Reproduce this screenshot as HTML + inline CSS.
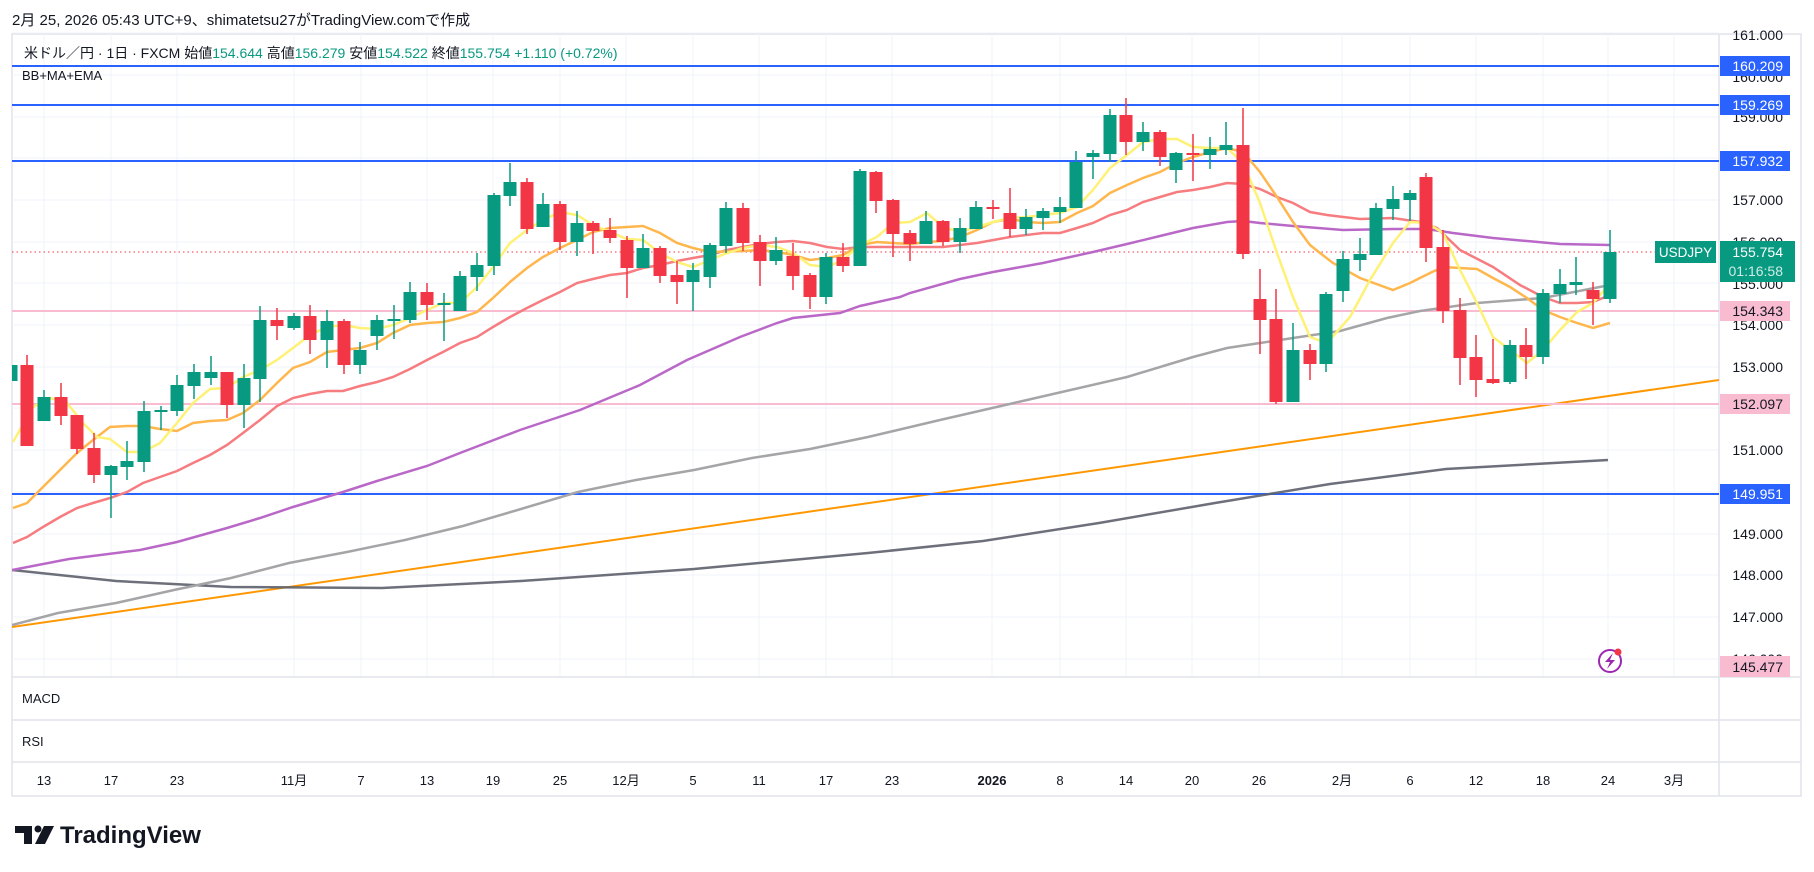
<!DOCTYPE html>
<html><head><meta charset="utf-8"><style>
html,body{margin:0;padding:0;background:#fff;}
svg{display:block;font-family:"Liberation Sans","Noto Sans CJK JP",sans-serif;}
</style></head><body>
<svg width="1814" height="872" viewBox="0 0 1814 872" xmlns="http://www.w3.org/2000/svg">
<rect width="1814" height="872" fill="#fff"/>
<text x="12" y="25" font-size="15" fill="#131722">2月 25, 2026 05:43 UTC+9、shimatetsu27がTradingView.comで作成</text>
<rect x="12" y="34" width="1789" height="762" fill="#fff" stroke="#e0e3eb" stroke-width="1.5"/>
<g stroke="#f0f3fa" stroke-width="1">
<path d="M12 33H1719M12 75H1719M12 117H1719M12 158H1719M12 200H1719M12 242H1719M12 283H1719M12 325H1719M12 367H1719M12 408H1719M12 450H1719M12 492H1719M12 534H1719M12 575H1719M12 617H1719M12 659H1719"/>
<path d="M44 34V677M111 34V677M177 34V677M294 34V677M361 34V677M427 34V677M493 34V677M560 34V677M626 34V677M693 34V677M759 34V677M826 34V677M892 34V677M992 34V677M1060 34V677M1126 34V677M1192 34V677M1259 34V677M1342 34V677M1410 34V677M1476 34V677M1543 34V677M1608 34V677M1674 34V677"/>
</g>
<g stroke="#e0e3eb" stroke-width="1.5">
<path d="M12 677H1801M12 720H1801M12 762H1801M1719 34V796"/>
</g>
<defs><clipPath id="pc"><rect x="12" y="35" width="1707" height="642"/></clipPath></defs>
<g clip-path="url(#pc)">
<path d="M12 627L1719 380" stroke="#ff9800" stroke-width="2" fill="none"/>
<g stroke="#2962ff" stroke-width="2"><path d="M12 66H1719M12 105H1719M12 161H1719M12 494H1719"/></g>
<g stroke="#f8bbd0" stroke-width="2"><path d="M12 311H1719M12 404H1719"/></g>
<path d="M12 252H1657" stroke="#f23645" stroke-width="1" stroke-dasharray="1.5 3"/>
<polyline fill="none" stroke="#5d606b" stroke-width="2.5" stroke-opacity="0.9" points="12,570 116,581 231,587 382,588 521,581 694,569 868,553 983,541 1099,523 1215,503 1330,484 1446,469 1608,460"/>
<polyline fill="none" stroke="#a5a5a8" stroke-width="2.5" points="12,625 58,613 116,603 174,590 231,578 289,563 347,552 405,540 463,526 521,509 578,492 636,480 694,470 752,458 810,449 868,437 940,420 1027,400 1127,377 1193,357 1227,348 1260,343 1293,338 1340,331 1387,318 1420,311 1477,303 1543,298 1610,285"/>
<polyline fill="none" stroke="#ba68c8" stroke-width="2.5" points="12,570 69,559 140,550 177,542 227,528 260,518 293,507 343,492 377,481 427,466 460,453 520,430 580,410 640,385 687,360 740,337 777,323 793,318 840,313 860,306 900,297 910,293 960,279 993,272 1043,263 1093,252 1127,244 1160,236 1193,228 1227,222 1243,221 1260,223 1293,226 1343,230 1393,229 1427,229 1453,233 1493,238 1527,241 1560,244 1610,245"/>
<polyline fill="none" stroke="#f77c80" stroke-width="2.5" points="13,543 27,537 43,527 60,517 77,508 93,503 110,498 127,492 143,483 160,477 177,471 193,463 210,455 227,445 243,433 260,420 277,406 293,398 310,394 327,391 343,391 360,386 377,382 393,377 410,369 427,360 443,352 460,343 477,337 493,327 510,317 527,308 543,300 560,292 577,283 593,279 610,275 627,273 643,268 660,265 677,261 693,258 710,255 727,250 743,247 760,244 777,242 793,241 810,243 827,247 843,249 860,247 943,247 977,243 1010,237 1043,233 1060,233 1077,228 1093,223 1110,215 1127,210 1143,202 1160,197 1177,192 1193,190 1210,187 1227,183 1243,184 1260,189 1277,197 1293,203 1310,212 1327,215 1360,219 1393,218 1420,222 1437,228 1460,250 1493,267 1520,285 1543,297 1560,303 1577,303 1593,302 1610,295"/>
<polyline fill="none" stroke="#ffb74d" stroke-width="2.5" points="13,508 27,503 43,487 60,470 77,453 93,440 110,427 127,426 143,426 160,429 177,431 193,423 210,421 227,420 243,413 260,400 277,383 293,368 310,362 327,352 343,350 360,348 377,343 393,333 410,325 427,323 443,322 460,318 477,312 493,298 510,282 527,268 543,257 560,248 577,240 593,232 610,228 627,227 643,226 660,233 677,243 693,248 710,252 743,251 760,250 777,252 793,255 810,260 827,258 843,255 860,245 877,242 893,243 910,244 927,242 943,241 960,237 977,230 993,222 1010,219 1027,222 1043,223 1060,222 1077,213 1093,206 1110,193 1127,185 1143,178 1160,172 1177,163 1193,157 1210,152 1227,148 1243,152 1260,172 1277,197 1293,222 1310,245 1320,253 1333,263 1360,278 1393,290 1410,283 1430,273 1443,267 1477,269 1493,278 1510,287 1527,298 1543,310 1560,317 1577,323 1593,328 1610,323"/>
<polyline fill="none" stroke="#fff176" stroke-width="2.5" points="13,442 33,407 50,398 67,403 83,423 97,437 110,439 127,452 143,452 160,443 177,423 193,403 210,389 227,388 243,377 260,370 277,360 293,348 310,335 327,327 343,325 360,328 377,329 393,325 410,318 427,310 443,303 460,303 477,287 493,267 510,243 527,230 543,220 560,212 577,215 593,225 610,232 627,239 643,240 660,253 677,262 693,267 710,260 727,253 743,248 760,245 777,247 793,253 810,265 827,267 843,260 860,245 877,237 893,223 910,222 927,213 943,227 960,232 977,227 993,222 1010,218 1027,217 1043,215 1060,213 1077,207 1093,190 1110,168 1127,155 1143,142 1160,139 1177,139 1193,147 1210,148 1227,148 1243,163 1260,203 1277,253 1293,297 1310,337 1327,343 1350,317 1370,280 1393,243 1410,222 1427,223 1443,233 1460,270 1477,303 1493,337 1510,350 1527,363 1543,350 1560,330 1577,312 1593,303 1607,287"/>
<g stroke="#089981" stroke-width="1.5" fill="none">
<path d="M11 365V381M44 390V421M111 465V518M127 441V480M144 401V472M161 406V430M177 375V416M194 364V399M211 356V385M244 364V428M260 306V402M294 313V330M327 310V368M360 342V374M377 315V350M394 305V339M410 282V323M444 293V341M460 271V311M477 253V291M494 193V275M510 163V206M543 193V227M577 211V256M643 234V268M693 263V311M710 243V288M726 202V253M776 237V265M826 253V304M860 169V266M926 211V244M960 218V253M976 201V229M1026 209V235M1043 208V230M1060 197V223M1076 151V208M1093 150V179M1110 109V162M1143 122V151M1176 152V183M1210 137V169M1226 122V155M1293 323V402M1326 292V372M1343 251V302M1360 238V271M1376 203V255M1393 186V220M1410 190V221M1510 340V384M1543 289V364M1560 269V303M1576 257V295M1610 230V303"/>
</g>
<g fill="#089981">
<rect x="4.5" y="365" width="13" height="16"/><rect x="37.5" y="397" width="13" height="24"/><rect x="104.5" y="466" width="13" height="9"/><rect x="120.5" y="461" width="13" height="6"/><rect x="137.5" y="411" width="13" height="51"/><rect x="154.5" y="410" width="13" height="2"/><rect x="170.5" y="385" width="13" height="26"/><rect x="187.5" y="372" width="13" height="14"/><rect x="204.5" y="372" width="13" height="6"/><rect x="237.5" y="378" width="13" height="27"/><rect x="253.5" y="320" width="13" height="59"/><rect x="287.5" y="316" width="13" height="12"/><rect x="320.5" y="321" width="13" height="19"/><rect x="353.5" y="350" width="13" height="15"/><rect x="370.5" y="320" width="13" height="16"/><rect x="387.5" y="319" width="13" height="2"/><rect x="403.5" y="292" width="13" height="28"/><rect x="437.5" y="303" width="13" height="2"/><rect x="453.5" y="276" width="13" height="35"/><rect x="470.5" y="265" width="13" height="12"/><rect x="487.5" y="195" width="13" height="71"/><rect x="503.5" y="182" width="13" height="14"/><rect x="536.5" y="204" width="13" height="23"/><rect x="570.5" y="223" width="13" height="19"/><rect x="636.5" y="248" width="13" height="20"/><rect x="686.5" y="270" width="13" height="12"/><rect x="703.5" y="245" width="13" height="32"/><rect x="719.5" y="208" width="13" height="38"/><rect x="769.5" y="250" width="13" height="11"/><rect x="819.5" y="257" width="13" height="40"/><rect x="853.5" y="171" width="13" height="95"/><rect x="919.5" y="221" width="13" height="23"/><rect x="953.5" y="228" width="13" height="14"/><rect x="969.5" y="207" width="13" height="22"/><rect x="1019.5" y="217" width="13" height="12"/><rect x="1036.5" y="211" width="13" height="7"/><rect x="1053.5" y="207" width="13" height="5"/><rect x="1069.5" y="162" width="13" height="46"/><rect x="1086.5" y="153" width="13" height="4"/><rect x="1103.5" y="115" width="13" height="39"/><rect x="1136.5" y="132" width="13" height="10"/><rect x="1169.5" y="153" width="13" height="17"/><rect x="1203.5" y="149" width="13" height="6"/><rect x="1219.5" y="145" width="13" height="5"/><rect x="1286.5" y="350" width="13" height="52"/><rect x="1319.5" y="294" width="13" height="70"/><rect x="1336.5" y="259" width="13" height="32"/><rect x="1353.5" y="254" width="13" height="6"/><rect x="1369.5" y="208" width="13" height="47"/><rect x="1386.5" y="199" width="13" height="10"/><rect x="1403.5" y="193" width="13" height="7"/><rect x="1503.5" y="345" width="13" height="37"/><rect x="1536.5" y="293" width="13" height="64"/><rect x="1553.5" y="284" width="13" height="10"/><rect x="1569.5" y="282" width="13" height="3"/><rect x="1603.5" y="252" width="13" height="47"/>
</g>
<g stroke="#f23645" stroke-width="1.5" fill="none">
<path d="M27 355V446M61 383V425M77 415V454M94 433V483M227 372V418M277 308V340M310 305V354M344 319V374M427 283V320M527 178V234M560 201V250M593 221V254M610 218V243M627 236V298M660 246V283M677 261V304M743 203V251M760 235V286M793 243V290M810 273V309M843 243V272M876 171V213M893 199V257M910 230V261M943 220V246M993 200V219M1010 188V237M1126 98V155M1160 130V166M1193 134V181M1243 108V259M1260 269V354M1276 289V404M1310 344V380M1426 173V262M1443 230V323M1460 298V385M1476 335V397M1493 339V384M1526 328V379M1593 282V325"/>
</g>
<g fill="#f23645">
<rect x="20.5" y="365" width="13" height="81"/><rect x="54.5" y="397" width="13" height="19"/><rect x="70.5" y="415" width="13" height="34"/><rect x="87.5" y="448" width="13" height="27"/><rect x="220.5" y="372" width="13" height="33"/><rect x="270.5" y="320" width="13" height="6"/><rect x="303.5" y="316" width="13" height="24"/><rect x="337.5" y="321" width="13" height="44"/><rect x="420.5" y="292" width="13" height="13"/><rect x="520.5" y="182" width="13" height="47"/><rect x="553.5" y="204" width="13" height="38"/><rect x="586.5" y="223" width="13" height="8"/><rect x="603.5" y="230" width="13" height="8"/><rect x="620.5" y="240" width="13" height="28"/><rect x="653.5" y="248" width="13" height="28"/><rect x="670.5" y="275" width="13" height="7"/><rect x="736.5" y="208" width="13" height="35"/><rect x="753.5" y="242" width="13" height="19"/><rect x="786.5" y="256" width="13" height="20"/><rect x="803.5" y="275" width="13" height="22"/><rect x="836.5" y="257" width="13" height="9"/><rect x="869.5" y="172" width="13" height="29"/><rect x="886.5" y="200" width="13" height="34"/><rect x="903.5" y="233" width="13" height="11"/><rect x="936.5" y="221" width="13" height="21"/><rect x="986.5" y="207" width="13" height="2"/><rect x="1003.5" y="213" width="13" height="16"/><rect x="1119.5" y="115" width="13" height="27"/><rect x="1153.5" y="132" width="13" height="25"/><rect x="1186.5" y="153" width="13" height="2"/><rect x="1236.5" y="145" width="13" height="109"/><rect x="1253.5" y="299" width="13" height="21"/><rect x="1269.5" y="319" width="13" height="83"/><rect x="1303.5" y="350" width="13" height="14"/><rect x="1419.5" y="177" width="13" height="71"/><rect x="1436.5" y="247" width="13" height="64"/><rect x="1453.5" y="310" width="13" height="48"/><rect x="1469.5" y="357" width="13" height="23"/><rect x="1486.5" y="379" width="13" height="4"/><rect x="1519.5" y="345" width="13" height="12"/><rect x="1586.5" y="290" width="13" height="9"/>
</g>
</g>
<circle cx="1610" cy="661" r="11" fill="#fff" stroke="#9c27b0" stroke-width="2"/>
<path d="M1613 653L1605 662H1610L1607 669L1615 660H1610Z" fill="#9c27b0"/>
<circle cx="1618" cy="652" r="3.5" fill="#f23645"/>
<text x="24" y="58" font-size="14" fill="#131722">米ドル／円 · 1日 · FXCM  始値<tspan fill="#089981">154.644</tspan>  高値<tspan fill="#089981">156.279</tspan>  安値<tspan fill="#089981">154.522</tspan>  終値<tspan fill="#089981">155.754</tspan>  <tspan fill="#089981">+1.110 (+0.72%)</tspan></text>
<text x="22" y="80" font-size="13" fill="#131722">BB+MA+EMA</text>
<text x="22" y="703" font-size="13" fill="#131722">MACD</text>
<text x="22" y="746" font-size="13" fill="#131722">RSI</text>
<g font-size="14" fill="#131722" text-anchor="end">
<text x="1783" y="40">161.000</text><text x="1783" y="82">160.000</text><text x="1783" y="122">159.000</text><text x="1783" y="164">158.000</text><text x="1783" y="205">157.000</text><text x="1783" y="247">156.000</text><text x="1783" y="289">155.000</text><text x="1783" y="330">154.000</text><text x="1783" y="372">153.000</text><text x="1783" y="413">152.000</text><text x="1783" y="455">151.000</text><text x="1783" y="497">150.000</text><text x="1783" y="539">149.000</text><text x="1783" y="580">148.000</text><text x="1783" y="622">147.000</text><text x="1783" y="664">146.000</text>
</g>
<g font-size="14" text-anchor="end">
<rect x="1720" y="56" width="70" height="20" fill="#2962ff"/><text x="1783" y="71" fill="#fff">160.209</text>
<rect x="1720" y="95" width="70" height="20" fill="#2962ff"/><text x="1783" y="110" fill="#fff">159.269</text>
<rect x="1720" y="151" width="70" height="20" fill="#2962ff"/><text x="1783" y="166" fill="#fff">157.932</text>
<rect x="1720" y="484" width="70" height="20" fill="#2962ff"/><text x="1783" y="499" fill="#fff">149.951</text>
<rect x="1720" y="301" width="70" height="20" fill="#f8bbd0"/><text x="1783" y="316" fill="#131722">154.343</text>
<rect x="1720" y="394" width="70" height="20" fill="#f8bbd0"/><text x="1783" y="409" fill="#131722">152.097</text>
<rect x="1720" y="656" width="70" height="21" fill="#f8bbd0"/><text x="1783" y="672" fill="#131722">145.477</text>
<rect x="1655" y="241" width="61" height="22" fill="#089981"/><text x="1685.5" y="257" fill="#fff" text-anchor="middle" font-size="13.5">USDJPY</text>
<rect x="1720" y="241" width="75" height="41" fill="#089981"/><text x="1783" y="257" fill="#fff">155.754</text><text x="1783" y="276" fill="#d0ece6">01:16:58</text>
</g>
<g font-size="13" fill="#131722" text-anchor="middle">
<text x="44" y="785">13</text><text x="111" y="785">17</text><text x="177" y="785">23</text><text x="294" y="785">11月</text><text x="361" y="785">7</text><text x="427" y="785">13</text><text x="493" y="785">19</text><text x="560" y="785">25</text><text x="626" y="785">12月</text><text x="693" y="785">5</text><text x="759" y="785">11</text><text x="826" y="785">17</text><text x="892" y="785">23</text><text x="992" y="785" font-weight="bold">2026</text><text x="1060" y="785">8</text><text x="1126" y="785">14</text><text x="1192" y="785">20</text><text x="1259" y="785">26</text><text x="1342" y="785">2月</text><text x="1410" y="785">6</text><text x="1476" y="785">12</text><text x="1543" y="785">18</text><text x="1608" y="785">24</text><text x="1674" y="785">3月</text>
</g>
<g fill="#131722">
<path d="M15 826H32V844H24V833H15Z"/><circle cx="38" cy="829" r="3.5"/><path d="M44 826H54L45 844H35Z"/>
</g>
<text x="60" y="843" font-size="24" font-weight="bold" fill="#131722">TradingView</text>
</svg>
</body></html>
